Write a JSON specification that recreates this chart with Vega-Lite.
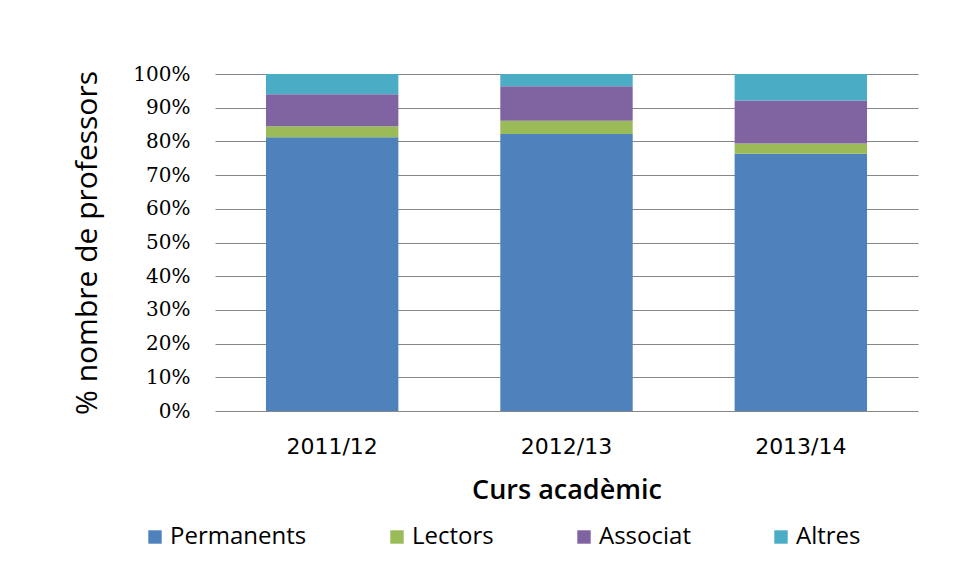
{
  "$schema": "https://vega.github.io/schema/vega-lite/v6.json",
  "width": 703,
  "height": 337,
  "autosize": {"type": "none"},
  "padding": {"left": 215, "top": 74, "right": 36, "bottom": 172},
  "background": "white",
  "config": {"view": {"stroke": null}},
  "data": {"values": [
    {"curs": "2011/12", "tipus": "Permanents", "ord": 1, "pct": 81.2},
    {"curs": "2011/12", "tipus": "Lectors", "ord": 2, "pct": 3.3},
    {"curs": "2011/12", "tipus": "Associat", "ord": 3, "pct": 9.5},
    {"curs": "2011/12", "tipus": "Altres", "ord": 4, "pct": 6.0},
    {"curs": "2012/13", "tipus": "Permanents", "ord": 1, "pct": 82.2},
    {"curs": "2012/13", "tipus": "Lectors", "ord": 2, "pct": 3.9},
    {"curs": "2012/13", "tipus": "Associat", "ord": 3, "pct": 10.3},
    {"curs": "2012/13", "tipus": "Altres", "ord": 4, "pct": 3.6},
    {"curs": "2013/14", "tipus": "Permanents", "ord": 1, "pct": 76.3},
    {"curs": "2013/14", "tipus": "Lectors", "ord": 2, "pct": 3.1},
    {"curs": "2013/14", "tipus": "Associat", "ord": 3, "pct": 12.7},
    {"curs": "2013/14", "tipus": "Altres", "ord": 4, "pct": 7.9}
  ]},
  "mark": {"type": "bar"},
  "encoding": {
    "x": {
      "field": "curs", "type": "nominal",
      "scale": {"paddingInner": 0.435, "paddingOuter": 0.2175},
      "axis": {
        "title": "Curs acadèmic", "labelAngle": 0,
        "labelFont": "DejaVu Sans", "labelFontSize": 22, "labelColor": "#000",
        "labelPadding": 25, "ticks": false, "domain": false,
        "titleFont": "Open Sans", "titleFontSize": 27, "titleFontWeight": 600, "titleColor": "#000",
        "titlePadding": 20
      }
    },
    "y": {
      "field": "pct", "type": "quantitative", "stack": "normalize",
      "axis": {
        "title": "%  nombre de professors", "format": ".0%",
        "values": [0,0.1,0.2,0.3,0.4,0.5,0.6,0.7,0.8,0.9,1],
        "labelOverlap": false,
        "labelFont": "DejaVu Serif", "labelFontSize": 20, "labelColor": "#000",
        "labelPadding": 25, "ticks": false, "domain": false,
        "gridColor": "#878787", "gridWidth": 1.2,
        "titleFont": "Open Sans", "titleFontSize": 30, "titleFontWeight": 500, "titleColor": "#000",
        "titlePadding": 30
      }
    },
    "color": {
      "field": "tipus", "type": "nominal",
      "scale": {"domain": ["Permanents", "Lectors", "Associat", "Altres"], "range": ["#4F81BD", "#9BBB59", "#8064A2", "#4BACC6"]},
      "legend": {
        "title": null, "orient": "none", "direction": "horizontal",
        "legendX": -72, "legendY": 451,
        "symbolType": "square", "symbolSize": 180, "symbolStrokeWidth": 0,
        "labelFont": "Open Sans", "labelFontSize": 24, "labelColor": "#000",
        "labelOffset": 3, "columnPadding": 78, "labelLimit": 300
      }
    },
    "order": {"field": "ord", "type": "quantitative"}
  }
}
